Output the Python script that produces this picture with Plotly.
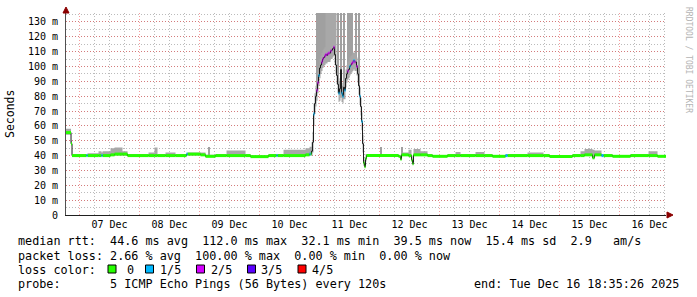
import plotly.graph_objects as go

# ---------------- data ----------------
times = [
    "2025-12-06 18:35:26", "2025-12-06 20:36", "2025-12-06 21:00", "2025-12-07 02:48", "2025-12-07 03:12",
    "2025-12-07 07:36", "2025-12-07 08:48", "2025-12-07 09:12", "2025-12-07 12:24", "2025-12-07 14:00",
    "2025-12-07 17:12", "2025-12-07 19:12", "2025-12-08 03:36", "2025-12-08 06:00", "2025-12-08 07:12",
    "2025-12-08 10:24", "2025-12-08 14:24", "2025-12-08 18:48", "2025-12-08 19:12", "2025-12-09 00:24",
    "2025-12-09 02:24", "2025-12-09 06:24", "2025-12-09 10:48", "2025-12-09 18:24", "2025-12-09 20:24",
    "2025-12-10 03:36", "2025-12-10 06:48", "2025-12-10 07:12", "2025-12-10 09:36", "2025-12-10 18:24",
    "2025-12-10 20:00", "2025-12-10 20:24",
    # outage / congestion episode
    "2025-12-10 20:48", "2025-12-10 21:12", "2025-12-10 21:36", "2025-12-10 22:00", "2025-12-10 22:24",
    "2025-12-10 22:48", "2025-12-10 23:12", "2025-12-10 23:36", "2025-12-11 00:00", "2025-12-11 00:24",
    "2025-12-11 00:48", "2025-12-11 01:12", "2025-12-11 01:36", "2025-12-11 02:00", "2025-12-11 02:24",
    "2025-12-11 02:48", "2025-12-11 03:12", "2025-12-11 03:36", "2025-12-11 04:00", "2025-12-11 04:24",
    "2025-12-11 04:48", "2025-12-11 05:12", "2025-12-11 05:36", "2025-12-11 06:00", "2025-12-11 06:24",
    "2025-12-11 06:48", "2025-12-11 07:12", "2025-12-11 07:36", "2025-12-11 08:00", "2025-12-11 08:24",
    "2025-12-11 08:48", "2025-12-11 09:12", "2025-12-11 09:36", "2025-12-11 10:00", "2025-12-11 10:24",
    "2025-12-11 10:48", "2025-12-11 11:12", "2025-12-11 11:36", "2025-12-11 12:00", "2025-12-11 12:24",
    "2025-12-11 12:48", "2025-12-11 13:12", "2025-12-11 13:36", "2025-12-11 14:00", "2025-12-11 14:24",
    "2025-12-11 14:48", "2025-12-11 15:12", "2025-12-11 15:36", "2025-12-11 16:00", "2025-12-11 16:24",
    "2025-12-11 16:48", "2025-12-11 17:12", "2025-12-11 17:36", "2025-12-11 18:00", "2025-12-11 18:24",
    # back to normal
    "2025-12-11 18:48", "2025-12-12 07:36", "2025-12-12 08:24", "2025-12-12 08:48", "2025-12-12 11:36",
    "2025-12-12 12:48", "2025-12-12 13:12", "2025-12-12 13:36", "2025-12-12 16:24", "2025-12-12 19:12",
    "2025-12-12 21:12", "2025-12-13 03:12", "2025-12-13 06:24", "2025-12-13 08:24", "2025-12-13 14:24",
    "2025-12-13 18:00", "2025-12-13 21:12", "2025-12-14 02:24", "2025-12-14 03:12", "2025-12-14 11:12",
    "2025-12-14 17:36", "2025-12-14 20:00", "2025-12-15 05:12", "2025-12-15 08:24", "2025-12-15 10:00",
    "2025-12-15 13:12", "2025-12-15 14:00", "2025-12-15 16:48", "2025-12-15 17:36", "2025-12-15 21:12",
    "2025-12-16 04:24", "2025-12-16 11:36", "2025-12-16 15:12", "2025-12-16 18:35:26",
]

median_ms = [
    55.5, 48, 40, 40, 40, 40, 40, 40, 40.5, 41,
    41, 40, 40, 40, 40, 40, 40, 41, 41, 40.5,
    39.5, 40, 40, 40, 39.3, 40, 40, 40, 40, 40.5,
    41, 41,
    43, 49, 68, 75, 80, 84, 89, 94, 99, 101,
    103, 105, 106, 107, 108, 107.5, 108.5, 109, 109, 110.5,
    111, 112, 113, 108, 101, 94, 88, 82, 85, 98,
    82, 80, 86, 84, 92, 95, 97, 98, 100, 101,
    102, 103, 104, 103, 103, 100, 95, 87, 80, 73,
    63, 48, 35, 32.5, 38,
    40, 39.5, 37.5, 40.5, 40, 37, 34.5, 40.5, 40.5, 40,
    39.5, 40, 40, 40, 40, 40, 39.5, 40, 40, 40,
    40, 39.4, 40, 40, 40.5, 38.5, 40.5, 40, 40, 39.5,
    40, 40, 39.5, 39.5,
]

smoke_lo_ms = [
    54, 47, 39.5, 39.5, 39.5, 39.5, 39.5, 39.5, 40, 40,
    40, 39.5, 39.5, 39.5, 39.5, 39.5, 39.5, 40, 40, 40,
    39, 39.5, 39.5, 39.5, 39, 39.5, 39.5, 39.5, 39.5, 40,
    40, 40,
    40, 42, 60, 68, 73, 77, 82, 87, 92, 95,
    97, 99, 100, 101, 102, 102, 103, 103, 103, 105,
    105, 106, 107, 102, 95, 88, 82, 76, 77, 79,
    76, 75, 78, 78, 86, 89, 91, 92, 94, 95,
    96, 97, 98, 97, 97, 94, 89, 81, 74, 67,
    57, 42, 33, 32, 36,
    39.5, 39, 37, 40, 39.5, 36, 34, 40, 40, 39.5,
    39, 39.5, 39.5, 39.5, 39.5, 39.5, 39, 39.5, 39.5, 39.5,
    39.5, 39, 39.5, 39.5, 40, 38, 40, 39.5, 39.5, 39,
    39.5, 39.5, 39, 39,
]

smoke_hi_ms = [
    58, 50, 41, 41, 41.5, 43, 42, 43, 45, 45.5,
    43, 41, 42, 45.5, 41, 42, 41, 41.5, 42, 42,
    40.5, 41, 43.5, 41, 40, 41, 41, 41, 44, 45,
    46, 46,
    49, 56, 75, 82, 87, 91, 96, 100, 105, 107,
    109, 111, 112, 113, 140, 140, 140, 140, 140, 140,
    140, 140, 140, 140, 140, 101, 95, 90, 92, 104,
    89, 87, 92, 91, 98, 101, 103, 104, 106, 107,
    108, 109, 110, 109, 109, 106, 101, 93, 86, 79,
    69, 54, 39, 36, 41,
    41, 40, 40, 42, 44, 40, 37, 44.5, 43, 41,
    40, 41, 42.5, 41, 42.5, 41, 40, 41, 41, 42,
    41, 40, 41, 43, 44.5, 44, 43.5, 41, 41, 40,
    41, 43, 40, 40,
]

# loss level per sample (0..4 of 5 pings); None = median drawn without loss colour
loss_level = [
    0, 0, 0, 1, 0, 0, 1, 0, 0, 0,
    0, 0, 0, 0, 0, 0, 0, 1, 0, 0,
    0, 0, 0, 0, 0, 0, 1, 0, 0, 0,
    1, 0,
    None, None, 1, None, None, 2, 2, 1, None, None,
    2, 2, None, 2, 2, None, 2, 2, None, 2,
    None, None, 2, None, None, None, None, 1, None, None,
    1, 1, None, 1, None, None, 2, None, 1, None,
    2, 2, 1, 2, None, 2, None, None, 1, None,
    1, None, 0, 0, 0,
    0, 0, 0, 0, 0, 0, 0, 0, 0, 0,
    0, 0, 0, 0, 0, 0, 0, 1, 0, 0,
    0, 0, 0, 0, 0, 0, 0, 1, 0, 0,
    0, 0, 0, 0,
]

# single-sample smoke spikes (max ping far above median)
spike_times = [
    "2025-12-09 03:36", "2025-12-12 00:24", "2025-12-12 08:48",
    "2025-12-10 22:48", "2025-12-10 23:36", "2025-12-11 00:24", "2025-12-11 01:12", "2025-12-11 02:00",
    "2025-12-11 07:12", "2025-12-11 08:24", "2025-12-11 09:36", "2025-12-11 11:12", "2025-12-11 12:00",
    "2025-12-11 12:48", "2025-12-11 14:24", "2025-12-11 15:36",
]
spike_base_ms = [40, 40, 40, 84, 94, 101, 105, 107, 88, 98, 86, 97, 100, 102, 103, 87]
spike_top_ms = [46, 46, 46, 140, 140, 140, 140, 140, 140, 140, 140, 140, 140, 140, 140, 140]

loss_labels = ["0", "1/5", "2/5", "3/5", "4/5"]
loss_colors = ["#26ff00", "#00b8ff", "#d400ff", "#5a00ff", "#ff0000"]

y_tick_vals = [0, 10, 20, 30, 40, 50, 60, 70, 80, 90, 100, 110, 120, 130]
y_tick_text = ["0", "10 m", "20 m", "30 m", "40 m", "50 m", "60 m", "70 m", "80 m",
               "90 m", "100 m", "110 m", "120 m", "130 m"]

x_start = "2025-12-06 18:35:26"
x_end = "2025-12-16 18:35:26"
y_top = 136

legend_lines = [
    "median rtt:  44.6 ms avg  112.0 ms max  32.1 ms min  39.5 ms now  15.4 ms sd  2.9   am/s",
    "packet loss: 2.66 % avg  100.00 % max  0.00 % min  0.00 % now",
    "loss color:",
    "probe:       5 ICMP Echo Pings (56 Bytes) every 120s",
]
end_text = "end: Tue Dec 16 18:35:26 2025"

# ---------------- layout geometry ----------------
W, H = 697, 297
ML, MR, MT, MB = 66, 31, 13, 82
PW, PH = W - ML - MR, H - MT - MB
PB = MT + PH


def px_x(px):
    return (px - ML) / PW


def px_y(py):
    return (PB - py) / PH


MONO = "DejaVu Sans Mono"
TXT = 11.77
MAJOR_GRID = "rgba(235,60,60,0.5)"
MINOR_GRID = "rgba(120,120,120,0.5)"
DASH = "1px,2px"

fig = go.Figure()

# smoke spikes
fig.add_trace(go.Bar(
    x=spike_times, y=[t - b for t, b in zip(spike_top_ms, spike_base_ms)], base=spike_base_ms,
    width=1440000, marker=dict(color="#a0a0a0", line=dict(width=0)), hoverinfo="skip", showlegend=False,
))

# smoke band
fig.add_trace(go.Scatter(x=times, y=smoke_lo_ms, mode="lines", line=dict(width=0, shape="hv"),
                         hoverinfo="skip", showlegend=False))
fig.add_trace(go.Scatter(x=times, y=smoke_hi_ms, mode="lines", line=dict(width=0, shape="hv"),
                         fill="tonexty", fillcolor="#a8a8a8", hoverinfo="skip", showlegend=False))

# thin median line
fig.add_trace(go.Scatter(x=times, y=median_ms, mode="lines", line=dict(color="#1a1a1a", width=1, shape="hv"),
                         hoverinfo="skip", showlegend=False))

# loss-coloured horizontal median segments
for lvl, col in enumerate(loss_colors):
    xs, ys = [], []
    for i in range(len(times) - 1):
        if loss_level[i] == lvl:
            xs += [times[i], times[i + 1], None]
            ys += [median_ms[i], median_ms[i], None]
    if xs:
        fig.add_trace(go.Scatter(x=xs, y=ys, mode="lines", line=dict(color=col, width=3),
                                 hoverinfo="skip", showlegend=False))

fig.update_layout(
    width=W, height=H,
    margin=dict(l=ML, r=MR, t=MT, b=MB, pad=0),
    paper_bgcolor="white", plot_bgcolor="white",
    barmode="overlay", bargap=0,
    font=dict(family=MONO, size=10, color="black"),
    xaxis=dict(
        type="date", range=[x_start, x_end],
        tick0="2025-12-07", dtick=86400000, tickformat="%d %b", ticklabelmode="period",
        ticks="", showgrid=True, gridcolor=MAJOR_GRID, griddash=DASH, gridwidth=1,
        minor=dict(dtick=21600000, tick0="2025-12-07", showgrid=True,
                   gridcolor=MINOR_GRID, griddash=DASH, gridwidth=1),
        showline=True, linecolor="#202020", linewidth=1, zeroline=False,
        tickfont=dict(family=MONO, size=10, color="black"),
    ),
    yaxis=dict(
        range=[0, y_top], tickvals=y_tick_vals, ticktext=y_tick_text,
        ticks="", showgrid=True, gridcolor=MAJOR_GRID, griddash=DASH, gridwidth=1,
        minor=dict(dtick=5, showgrid=True, gridcolor=MINOR_GRID, griddash=DASH),
        showline=True, linecolor="#505050", linewidth=1, zeroline=False,
        ticklabelstandoff=5,
        tickfont=dict(family=MONO, size=10, color="black"),
    ),
)

ann = []
# y title
ann.append(dict(text="Seconds", x=px_x(10), y=0.5, xref="paper", yref="paper", showarrow=False,
                textangle=-90, xanchor="center", yanchor="middle",
                font=dict(family=MONO, size=11.5, color="black")))
# watermark
ann.append(dict(text="RRDTOOL / TOBI OETIKER", x=px_x(689), y=px_y(60), xref="paper", yref="paper",
                showarrow=False, textangle=90, xanchor="center", yanchor="middle",
                font=dict(family=MONO, size=8, color="#b4b4b4")))

line_y = [241, 255.5, 269.5, 283.5]
for txt, ly in zip(legend_lines, line_y):
    ann.append(dict(text=txt.replace(" ", "\u00a0"), x=px_x(16), y=px_y(ly), xref="paper", yref="paper",
                    showarrow=False, xanchor="left", yanchor="middle",
                    font=dict(family=MONO, size=TXT, color="black")))
ann.append(dict(text=end_text.replace(" ", "\u00a0"), x=px_x(681), y=px_y(line_y[3]), xref="paper",
                yref="paper", showarrow=False, xanchor="right", yanchor="middle",
                font=dict(family=MONO, size=TXT, color="black")))

sq_x = [108, 145.5, 196.5, 247.5, 298]
lbl_x = [125, 158, 208.5, 259, 310]
shapes = []
for sx, lx, lab, col in zip(sq_x, lbl_x, loss_labels, loss_colors):
    shapes.append(dict(type="rect", xref="paper", yref="paper",
                       x0=px_x(sx), x1=px_x(sx + 8), y0=px_y(265), y1=px_y(273),
                       fillcolor=col, line=dict(color="black", width=1)))
    ann.append(dict(text=lab, x=px_x(lx), y=px_y(line_y[2]), xref="paper", yref="paper",
                    showarrow=False, xanchor="left", yanchor="middle",
                    font=dict(family=MONO, size=TXT, color="black")))

# axis arrows
shapes.append(dict(type="path", xref="paper", yref="paper", xsizemode="pixel", ysizemode="pixel",
                   xanchor=0, yanchor=1, path="M -3,0 L 3,0 L 0,6 Z",
                   fillcolor="#8b0000", line=dict(color="#8b0000", width=1)))
shapes.append(dict(type="path", xref="paper", yref="paper", xsizemode="pixel", ysizemode="pixel",
                   xanchor=1, yanchor=0, path="M 1,-3 L 1,3 L 7,0 Z",
                   fillcolor="#8b0000", line=dict(color="#8b0000", width=1)))

fig.update_layout(annotations=ann, shapes=shapes)

fig.write_html("out.html")
